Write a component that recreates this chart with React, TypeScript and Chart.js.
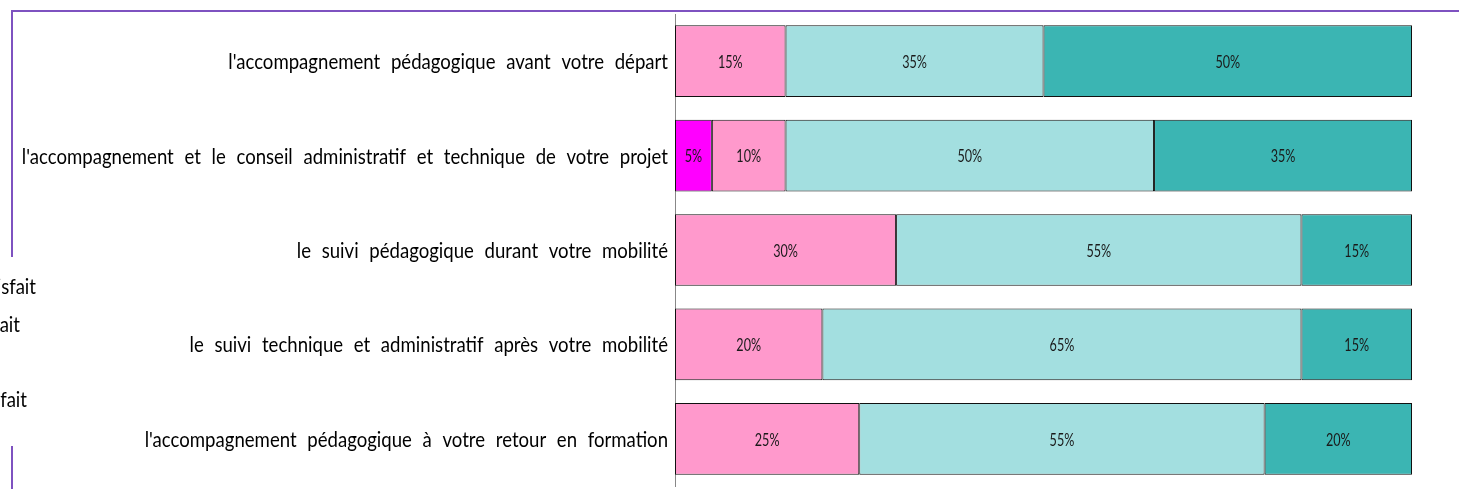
import React, { useEffect, useRef } from "react";
import { Chart, registerables } from "chart.js";

Chart.register(...registerables);

const categories = [
  "l'accompagnement pédagogique avant votre départ",
  "l'accompagnement et le conseil administratif et technique de votre projet",
  "le suivi pédagogique durant votre mobilité",
  "le suivi technique et administratif après votre mobilité",
  "l'accompagnement pédagogique à votre retour en formation",
];

const seriesNames = ["Très insatisfait", "Peu satisfait", "Satisfait", "Très satisfait"];
const tresInsatisfait = [null, 5, null, null, null];
const peuSatisfait = [15, 10, 30, 20, 25];
const satisfait = [35, 50, 55, 65, 55];
const tresSatisfait = [50, 35, 15, 15, 20];
const seriesColors = ["#FF00FF", "#FF99CC", "#A3DFE0", "#3BB5B3"];

const legendEnds = [36, 20, -12, 27];
const legendYs = [287, 325, 363, 400];

const FONT = "Lato, 'Liberation Sans', sans-serif";
const LABEL_SIZE = 22;
const LABEL_SCALE = 0.845;

function drawNarrow(ctx: any, text: string, x: number, y: number, sx: number) {
  ctx.save();
  ctx.translate(x, y);
  ctx.scale(sx, 1);
  ctx.fillText(text, 0, 0);
  ctx.restore();
}

const framePlugin = {
  id: "frame",
  afterDraw(chart: any) {
    const ctx = chart.ctx;
    ctx.save();
    ctx.strokeStyle = "#7E52C0";
    ctx.lineWidth = 2;
    ctx.beginPath();
    ctx.moveTo(11, 11);
    ctx.lineTo(1459, 11);
    ctx.moveTo(12, 10);
    ctx.lineTo(12, 257);
    ctx.moveTo(12, 446);
    ctx.lineTo(12, 489);
    ctx.stroke();

    ctx.fillStyle = "#000";
    ctx.font = `${LABEL_SIZE}px ${FONT}`;
    (ctx as any).wordSpacing = "7px";
    ctx.textAlign = "right";
    ctx.textBaseline = "middle";
    const yScale = chart.scales.y;
    const right = chart.chartArea.left - 7;
    categories.forEach((c, i) => {
      drawNarrow(ctx, c, right, yScale.getPixelForValue(i) + 1, LABEL_SCALE);
    });
    seriesNames.forEach((n, i) => {
      drawNarrow(ctx, n, legendEnds[i], legendYs[i], LABEL_SCALE);
    });
    ctx.restore();
  },
};

const labelPlugin = {
  id: "barLabels",
  afterDatasetsDraw(chart: any) {
    const ctx = chart.ctx;
    ctx.save();
    ctx.fillStyle = "#1a1a1a";
    ctx.textAlign = "center";
    ctx.textBaseline = "middle";
    ctx.font = `18px ${FONT}`;
    chart.data.datasets.forEach((ds: any, di: number) => {
      const meta = chart.getDatasetMeta(di);
      meta.data.forEach((bar: any, i: number) => {
        const v = ds.data[i];
        if (v == null || v === 0) return;
        const cx = (bar.x + bar.base) / 2;
        drawNarrow(ctx, v + "%", cx, bar.y + 1, 0.7);
      });
    });
    ctx.restore();
  },
};

export default function App() {
  const ref = useRef<HTMLCanvasElement>(null);
  useEffect(() => {
    if (!ref.current) return;
    const data = [tresInsatisfait, peuSatisfait, satisfait, tresSatisfait];
    const chart = new Chart(ref.current, {
      type: "bar",
      data: {
        labels: categories,
        datasets: data.map((d, i) => ({
          label: seriesNames[i],
          data: d as any,
          backgroundColor: seriesColors[i],
          borderColor: "#111111",
          borderWidth: 1,
          borderSkipped: false,
          barPercentage: 0.76,
          categoryPercentage: 1,
        })),
      },
      options: {
        indexAxis: "y",
        responsive: false,
        animation: false,
        layout: { padding: { top: 14, bottom: 3, right: 47, left: 0 } },
        plugins: { legend: { display: false }, tooltip: { enabled: false } },
        scales: {
          x: { stacked: true, min: 0, max: 100, display: false },
          y: {
            stacked: true,
            grid: { display: false },
            border: { display: true, color: "#888888", width: 1 },
            ticks: { display: false },
            afterFit(scale: any) {
              scale.width = 675;
              scale.paddingTop = 0;
              scale.paddingBottom = 0;
            },
          },
        },
      },
      plugins: [framePlugin, labelPlugin],
    });
    return () => chart.destroy();
  }, []);
  return (
    <div style={{ position: "absolute", left: 0, top: 0, width: 1459, height: 489, background: "#fff" }}>
      <canvas ref={ref} width={1459} height={489} />
    </div>
  );
}
